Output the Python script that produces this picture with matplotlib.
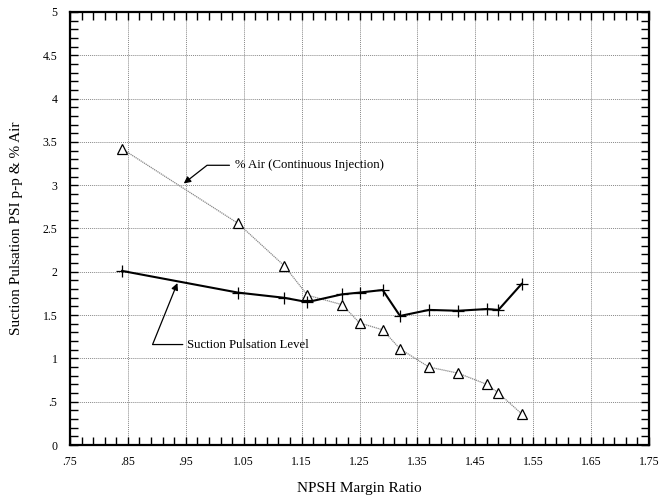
import matplotlib
matplotlib.use("Agg")
import matplotlib.pyplot as plt
from matplotlib.ticker import MultipleLocator, FuncFormatter

plt.rcParams['font.family'] = ['Liberation Serif', 'DejaVu Serif']

# % Air (continuous injection)
air_x = [0.84, 1.04, 1.12, 1.16, 1.22, 1.25, 1.29, 1.32, 1.37, 1.42, 1.47, 1.49, 1.53]
air_y = [3.42, 2.56, 2.07, 1.73, 1.62, 1.41, 1.33, 1.11, 0.90, 0.83, 0.70, 0.60, 0.36]

# suction pulsation level
puls_x = [0.84, 1.04, 1.12, 1.16, 1.22, 1.25, 1.29, 1.32, 1.37, 1.42, 1.47, 1.49, 1.53]
puls_y = [2.01, 1.76, 1.70, 1.65, 1.74, 1.76, 1.79, 1.49, 1.56, 1.55, 1.57, 1.56, 1.86]


def fmt(v, pos):
    s = ('%.2f' % v).rstrip('0').rstrip('.')
    if s.startswith('0.'):
        s = s[1:]
    return s


fig = plt.figure(figsize=(6.69, 5.03), dpi=100)
ax = fig.add_axes([70/669, 1-445/503, 579/669, 433/503])

ax.plot(air_x, air_y, '-', color='#888888', lw=0.9, ls=(0, (1, 0.6)),
        marker='^', ms=6.5, mfc='white', mec='black', mew=0.9, zorder=3)
ax.plot(puls_x, puls_y, '-', color='black', lw=1.5,
        marker='+', ms=8, mec='black', mew=0.9, zorder=4)

ax.set_xlim(0.75, 1.75)
ax.set_ylim(0, 5)
ax.xaxis.set_major_locator(MultipleLocator(0.1, offset=0.05))
ax.xaxis.set_minor_locator(MultipleLocator(0.02, offset=0.01))
ax.yaxis.set_major_locator(MultipleLocator(0.5))
ax.yaxis.set_minor_locator(MultipleLocator(0.1))
ax.xaxis.set_major_formatter(FuncFormatter(fmt))
ax.yaxis.set_major_formatter(FuncFormatter(fmt))

ax.tick_params(which='both', direction='in', top=True, right=True,
               length=5.5, width=1.0, labelsize=8.5)
ax.tick_params(axis='x', pad=8)
ax.tick_params(axis='y', pad=9)
for sp in ax.spines.values():
    sp.set_linewidth(1.6)

ax.grid(True, which='major', color='#888888', lw=0.7, ls=(0, (1, 1)))

ax.set_xlabel('NPSH Margin Ratio', fontsize=11, labelpad=10)
ax.set_ylabel('Suction Pulsation PSI p-p & % Air', fontsize=11, labelpad=14)

ax.annotate('% Air (Continuous Injection)', xy=(0.9465, 3.02), xytext=(1.035, 3.23),
            fontsize=9.2, ha='left', va='center',
            arrowprops=dict(arrowstyle='-|>', color='black', lw=0.9,
                            mutation_scale=10, relpos=(0, 0.5), shrinkA=2, shrinkB=0,
                            connectionstyle='angle,angleA=0,angleB=38,rad=0'))
ax.annotate('Suction Pulsation Level', xy=(0.9355, 1.87), xytext=(0.952, 1.16),
            fontsize=9.2, ha='left', va='center',
            arrowprops=dict(arrowstyle='-|>', color='black', lw=0.9,
                            mutation_scale=10, relpos=(0, 0.5), shrinkA=1, shrinkB=0,
                            connectionstyle='angle,angleA=0,angleB=68,rad=0'))

fig.savefig('out.png', dpi=100)
